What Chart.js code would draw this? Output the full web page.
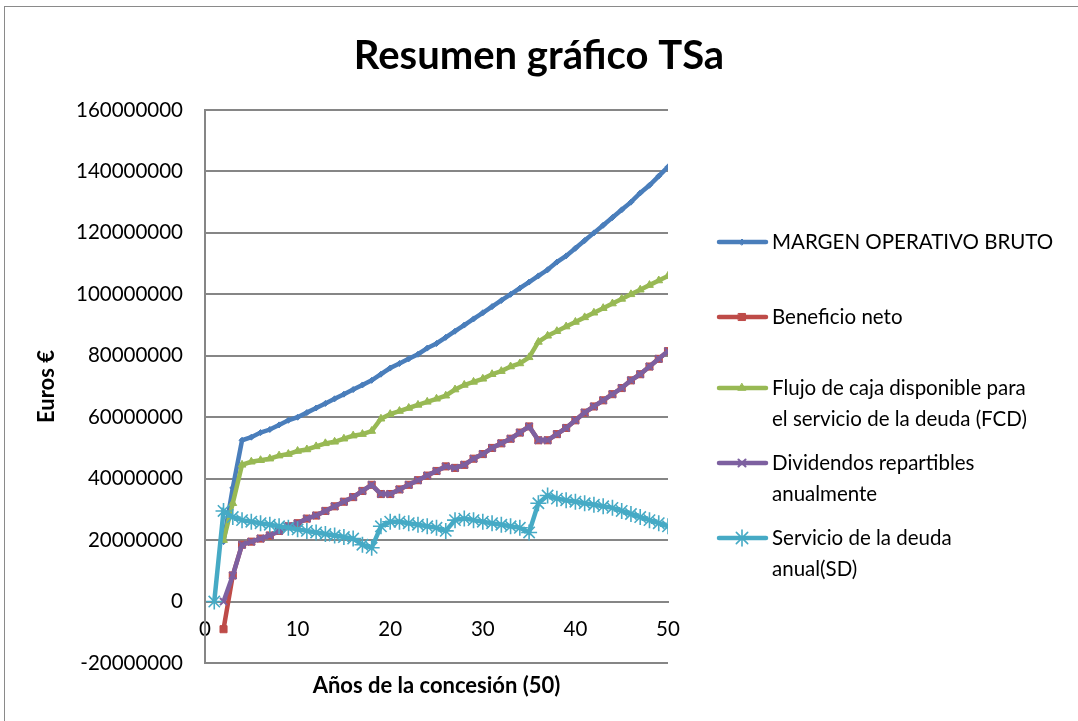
<!DOCTYPE html>
<html>
<head>
  <meta charset="utf-8">
  <title>Resumen gráfico TSa</title>
  <script src="https://cdn.jsdelivr.net/npm/chart.js"></script>
  <style>
    body { margin: 0; background: #fff; }
    #graphCanvas { display: block; }
  </style>
</head>
<body>
<canvas id="graphCanvas" width="1078" height="721"></canvas>

<script>
// años de la concesión
let anios = [1, 2, 3, 4, 5, 6, 7, 8, 9, 10,
  11, 12, 13, 14, 15, 16, 17, 18, 19, 20,
  21, 22, 23, 24, 25, 26, 27, 28, 29, 30,
  31, 32, 33, 34, 35, 36, 37, 38, 39, 40,
  41, 42, 43, 44, 45, 46, 47, 48, 49, 50];

// valores en millones de euros
let margenBruto = [null, 19.5, 37, 52.5, 53.5, 55, 56, 57.5, 59, 60,
  61.5, 63, 64.5, 66, 67.5, 69, 70.5, 72, 74, 76,
  77.5, 79, 80.5, 82.5, 84, 86, 88, 90, 92, 94,
  96, 98, 100, 102, 104, 106, 108, 110.5, 112.5, 115,
  117.5, 120, 122.5, 125, 127.5, 130, 133, 135.5, 138.5, 141.5];

let beneficioNeto = [null, -9, 8.5, 18.5, 19.5, 20.5, 21.5, 23, 24.5, 25.5,
  27, 28, 29.5, 31, 32.5, 34, 36, 38, 35, 35,
  36.5, 38, 39.5, 41, 42.5, 44, 43.5, 44.5, 46.5, 48,
  50, 51.5, 53, 55, 57, 52.5, 52.5, 54.5, 56.5, 59,
  61.5, 63.5, 65.5, 67.5, 69.5, 72, 74, 76.5, 79, 81.5];

let flujoCaja = [null, 20, 32, 44.5, 45.5, 46, 46.5, 47.5, 48, 49,
  49.5, 50.5, 51.5, 52, 53, 54, 54.5, 55.5, 59.5, 61,
  62, 63, 64, 65, 66, 67, 69, 70.5, 71.5, 72.5,
  74, 75, 76.5, 77.5, 79.5, 84.5, 86.5, 88, 89.5, 91,
  92.5, 94, 95.5, 97, 98.5, 100, 101.5, 103, 104.5, 106];

let dividendos = [null, 0, 8.5, 18.5, 19.5, 20.5, 21.5, 23, 24.5, 25.5,
  27, 28, 29.5, 31, 32.5, 34, 36, 38, 35, 35,
  36.5, 38, 39.5, 41, 42.5, 44, 43.5, 44.5, 46.5, 48,
  50, 51.5, 53, 55, 57, 52.5, 52.5, 54.5, 56.5, 59,
  61.5, 63.5, 65.5, 67.5, 69.5, 72, 74, 76.5, 79, 81.5];

let servicioDeuda = [0, 29.5, 27.5, 26.5, 26, 25.5, 25, 24.5, 24, 23.5,
  23, 22.5, 22, 21.5, 21, 20.5, 18.5, 17.5, 24.5, 26,
  26, 25.5, 25, 24.5, 24, 23, 26.5, 27, 26.5, 26,
  25.5, 25, 24.5, 24, 22.5, 32, 34.5, 33.5, 33, 32.5,
  32, 31.5, 31, 30.5, 29.5, 28.5, 27.5, 26.5, 25.5, 24.5];

let nombres = [
  ['MARGEN OPERATIVO BRUTO'],
  ['Beneficio neto'],
  ['Flujo de caja disponible para', 'el servicio de la deuda (FCD)'],
  ['Dividendos repartibles', 'anualmente'],
  ['Servicio de la deuda', 'anual(SD)']
];

let colores = ['#4A7EBB', '#BE4B48', '#98B954', '#7D60A0', '#46AAC5'];

function puntos(serie) {
  return anios.map((x, i) => ({ x: x, y: serie[i] === null ? null : serie[i] * 1000000 }));
}

const FUENTE = 'Lato, "Open Sans", sans-serif';

// leyenda a la derecha y marco del gráfico
const leyendaPlugin = {
  id: 'leyendaDerecha',
  afterDraw(chart) {
    const ctx = chart.ctx;
    ctx.save();
    ctx.strokeStyle = '#8a8a8a';
    ctx.lineWidth = 1;
    ctx.strokeRect(4.5, 6.5, chart.width + 10, chart.height + 10);

    const filas = [242, 317, 388, 463, 538];
    ctx.font = '20.5px ' + FUENTE;
    ctx.textBaseline = 'middle';
    ctx.textAlign = 'left';
    chart.data.datasets.forEach((ds, i) => {
      const y = filas[i];
      ctx.strokeStyle = ds.borderColor;
      ctx.fillStyle = ds.borderColor;
      ctx.lineWidth = 4.5;
      ctx.lineCap = 'round';
      ctx.beginPath();
      ctx.moveTo(719, y);
      ctx.lineTo(766, y);
      ctx.stroke();
      ctx.lineWidth = ds.pointBorderWidth;
      Chart.helpers.drawPoint(ctx, {
        pointStyle: ds.pointStyle,
        radius: ds.pointRadius,
        borderWidth: ds.pointBorderWidth,
        rotation: 0
      }, 742, y);
      ctx.fillStyle = '#000';
      nombres[i].forEach((t, k) => ctx.fillText(t, 772, y + k * 31));
    });
    ctx.restore();
  }
};

let datasets = [margenBruto, beneficioNeto, flujoCaja, dividendos, servicioDeuda].map((serie, i) => {
  const estilos = ['rectRot', 'rect', 'triangle', 'crossRot', 'star'];
  const radios = [3, 5, 4.5, 5, 8];
  const bordes = [1, 1, 1, 2, 1.6];
  return {
    label: nombres[i].join(' '),
    data: puntos(serie),
    borderColor: colores[i],
    backgroundColor: colores[i],
    borderWidth: 4.5,
    pointStyle: estilos[i],
    pointRadius: radios[i],
    pointBorderWidth: bordes[i],
    pointBorderColor: colores[i],
    pointBackgroundColor: colores[i],
    tension: 0,
    order: 5 - i
  };
});

let options = {
  type: 'line',
  data: { datasets: datasets },
  options: {
    responsive: false,
    animation: false,
    events: [],
    layout: { padding: 0 },
    plugins: {
      legend: { display: false },
      tooltip: { enabled: false },
      title: {
        display: true,
        text: 'Resumen gráfico TSa',
        color: '#000',
        font: { family: FUENTE, size: 40, weight: 'bold' },
        padding: { top: 32, bottom: 30 }
      }
    },
    scales: {
      x: {
        type: 'linear',
        position: { y: 0 },
        min: 0,
        max: 50,
        grid: { display: false },
        border: { display: true, color: '#868686', width: 2 },
        ticks: {
          stepSize: 10,
          padding: 8,
          color: '#000',
          font: { family: FUENTE, size: 20.5 },
          maxRotation: 0
        }
      },
      xTitulo: {
        type: 'linear',
        position: 'bottom',
        grid: { display: false },
        border: { display: false },
        ticks: { display: false },
        title: {
          display: true,
          text: 'Años de la concesión (50)',
          color: '#000',
          font: { family: FUENTE, size: 22, weight: 'bold' },
          padding: { top: 8, bottom: 22 }
        },
        afterFit(scale) { scale.height = 58; }
      },
      y: {
        min: -20000000,
        max: 160000000,
        grid: { color: '#868686', lineWidth: 2, drawTicks: false },
        border: { display: true, color: '#868686', width: 2 },
        ticks: {
          stepSize: 20000000,
          padding: 22,
          color: '#000',
          font: { family: FUENTE, size: 20.5 },
          callback: (v) => String(v)
        },
        title: {
          display: true,
          text: 'Euros €',
          color: '#000',
          font: { family: FUENTE, size: 22, weight: 'bold' },
          padding: { top: 34, bottom: 0 }
        },
        afterFit(scale) { scale.width = 205; }
      },
      espacioLeyenda: {
        type: 'linear',
        position: 'right',
        grid: { display: false },
        border: { display: false },
        ticks: { display: false },
        afterFit(scale) { scale.width = 410; }
      }
    }
  },
  plugins: [leyendaPlugin]
};

let chart = new Chart(document.getElementById('graphCanvas'), options);
</script>
</body>
</html>
